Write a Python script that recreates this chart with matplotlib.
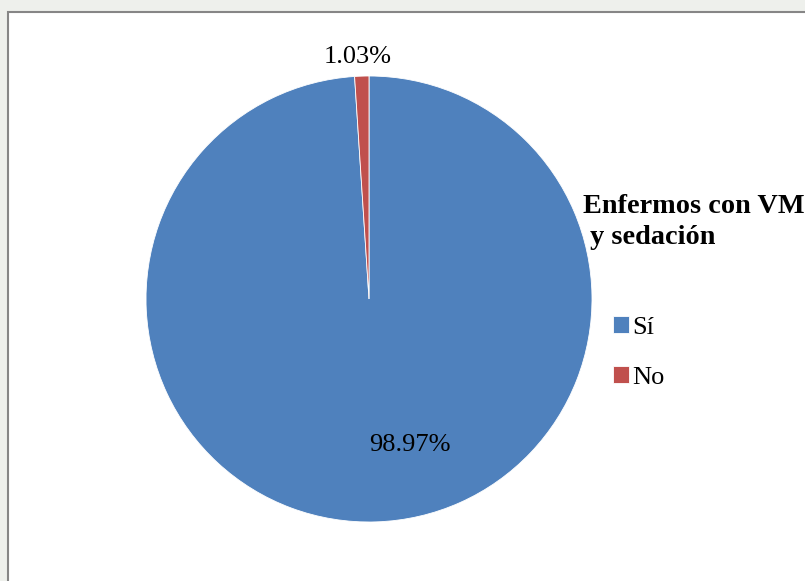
import matplotlib.pyplot as plt
from matplotlib.patches import Rectangle
import numpy as np

# datos
categorias = ["Sí", "No"]
porcentajes = [98.97, 1.03]
colores = ["#4F81BD", "#C0504D"]
titulo_leyenda = "Enfermos con VM\n y sedación"

plt.rcParams["font.family"] = ["Liberation Serif", "DejaVu Serif"]

W, H = 805, 581
fig = plt.figure(figsize=(W / 100, H / 100), dpi=100, facecolor="#eef0ec")

# marco blanco del grafico
fig.patches.append(Rectangle((8 / W, -0.1), 1.1, 1 - 12 / H + 0.1,
                             transform=fig.transFigure, facecolor="white",
                             edgecolor="#868686", linewidth=1.5, zorder=-5))

# ejes del pastel (centro 369,299 px, radio 223 px)
cx, cy, r = 369, 299, 223
ax = fig.add_axes([(cx - r) / W, (H - cy - r) / H, 2 * r / W, 2 * r / H], zorder=2)
wedges, _ = ax.pie(porcentajes, colors=colores, startangle=90, counterclock=False,
                   radius=1, wedgeprops=dict(edgecolor="white", linewidth=0.6))
ax.set_xlim(-1, 1)
ax.set_ylim(-1, 1)
ax.set_aspect("equal")
ax.axis("off")

# etiquetas de porcentaje
w_no = wedges[1]
ang = np.deg2rad((w_no.theta1 + w_no.theta2) / 2)
ax.text(1.085 * np.cos(ang) - 0.015, 1.085 * np.sin(ang), "%.2f%%" % porcentajes[1],
        ha="center", va="center", fontsize=19, clip_on=False)
ax.text(0.185, -0.655, "%.2f%%" % porcentajes[0], ha="center", va="center", fontsize=19)

# titulo de la leyenda
fig.text(583 / W, 1 - 194 / H, titulo_leyenda, ha="left", va="top",
         fontsize=20.3, fontweight="bold", linespacing=1.3, zorder=3)

fig.legend(wedges, categorias, loc="upper left",
           bbox_to_anchor=(613 / W, 1 - 316 / H), frameon=False,
           fontsize=19, handlelength=0.6, handleheight=0.6,
           handletextpad=0.12, labelspacing=1.05, borderpad=0, borderaxespad=0)

fig.savefig("out.png", dpi=100, facecolor=fig.get_facecolor())
